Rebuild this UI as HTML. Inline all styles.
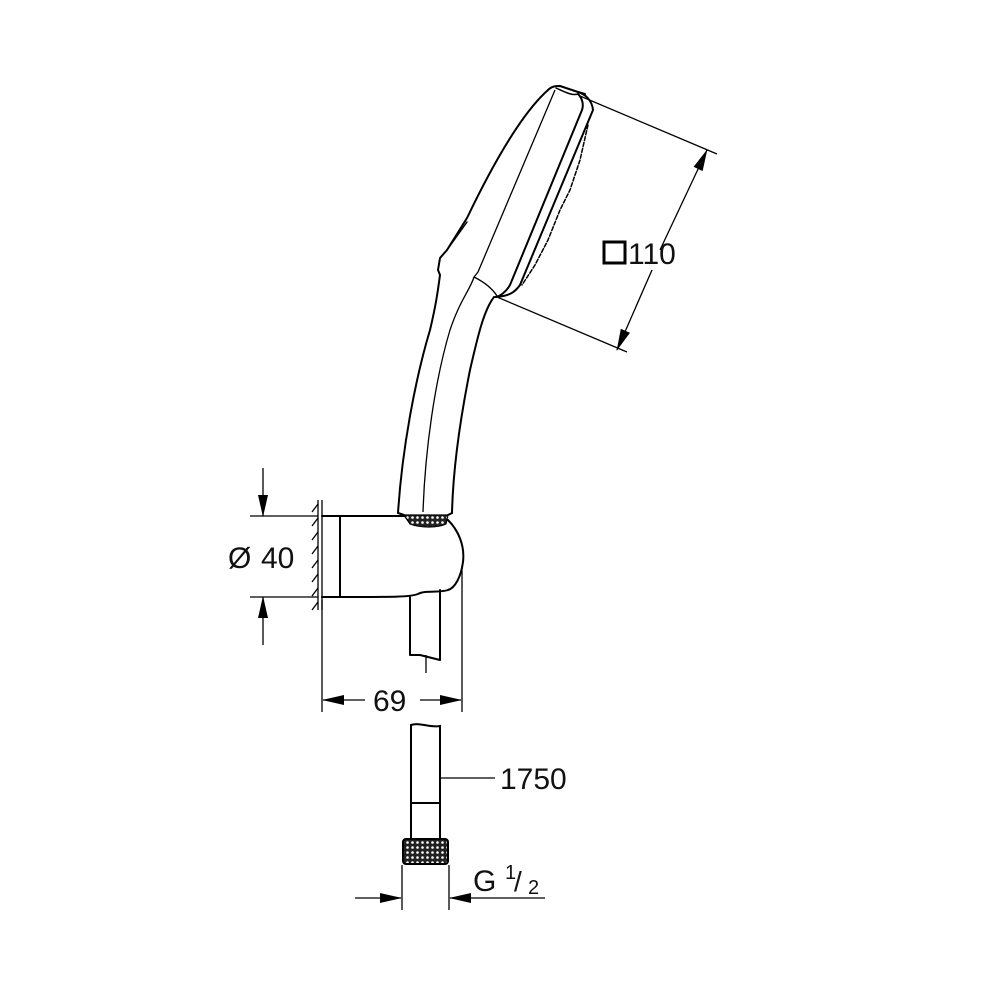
<!DOCTYPE html>
<html><head><meta charset="utf-8"><style>
html,body{margin:0;padding:0;background:#fff}
svg{display:block}
text{font-family:"Liberation Sans",sans-serif;fill:#111}
</style></head><body>
<svg width="1000" height="1000" viewBox="0 0 1000 1000" xmlns="http://www.w3.org/2000/svg">
<defs>
<pattern id="kn" width="5" height="5" patternUnits="userSpaceOnUse">
<rect width="5" height="5" fill="#222"/><circle cx="2.5" cy="2.5" r="1.3" fill="#fff"/>
</pattern>
<marker id="ar" markerWidth="22" markerHeight="10" refX="21" refY="5" orient="auto" markerUnits="userSpaceOnUse">
<path d="M0,0 L22,5 L0,10 Z" fill="#000"/></marker>
</defs>
<g fill="none" stroke="#000" stroke-width="2" stroke-linejoin="round" stroke-linecap="round">
<path d="M398,513 C402,450 415,380 430,330 C436,305 438,290 440,275 L438,270 L440,258 L447,250 L467,218 C490,170 520,115 548,90 C552,86 556,86 560,86 L578,92 L585,94"/>
<path d="M447,250 L467,222" stroke-width="1.5"/>
<path d="M452,513 C453,470 460,420 470,370 C478,335 484,310 494,297"/>
<path d="M578,92 C585,94 592,100 593,110 L520,285 C515,292 510,296 495,297"/>
<path d="M578,94 C582,98 584,104 582,110 L510,285 C506,292 500,296 496,297"/>
<path d="M556,88 C565,92 572,96 578,94" stroke-width="1.5"/>
<path d="M588,125 L580,160 L570,190 L560,210 L548,240 L535,265 L522,285" stroke-width="1.5" stroke-dasharray="4 2"/>
<path d="M322,516 L405,516 L408,520 L448,520 C458,530 465,545 463,562 C461,577 455,588 448,590 C440,593 425,590 418,594 C410,597 400,597 330,597 L322,597"/>
<path d="M340,516 L340,597"/>
<path d="M410,597 L410,655 L420,655 L440,660 L440,590"/>
<path d="M404,515 L448,515 L446,524 C438,528 420,528 410,524 Z" fill="url(#kn)" stroke-width="1.2"/>
<path d="M404,515 L398,513 M448,515 L452,513" />
</g>
<g fill="none" stroke="#000" stroke-width="1.3">
<path d="M423,512 C425,450 435,380 450,330 C460,300 470,290 474,277 L478,272 L555,90"/>
<path d="M474,277 C484,282 492,288 497,296"/>
<path d="M318,500 L318,610 M322,500 L322,610"/>
<path d="M312,512 L318,504 M312,526 L318,518 M312,540 L318,532 M312,554 L318,546 M312,568 L318,560 M312,582 L318,574 M312,596 L318,588 M312,610 L318,602"/>
<path d="M580,96 L717,154 M497,297 L627,352"/>
<path d="M660,250 L707,150" marker-end="url(#ar)"/>
<path d="M652,270 L617,350" marker-end="url(#ar)"/>
<path d="M250,516 L318,516 M250,597 L318,597"/>
<path d="M263,468 L263,516" marker-end="url(#ar)"/>
<path d="M263,645 L263,597" marker-end="url(#ar)"/>
<path d="M322,600 L322,712 M462,565 L462,712 M426,655 L426,673"/>
<path d="M365,700 L323,700" marker-end="url(#ar)"/>
<path d="M420,700 L461,700" marker-end="url(#ar)"/>
<path d="M441,778 L495,778"/>
<path d="M402,865 L402,910 M449,865 L449,910"/>
<path d="M355,898 L401,898" marker-end="url(#ar)"/>
<path d="M545,898 L450,898" marker-end="url(#ar)"/>
</g>
<g fill="none" stroke="#000" stroke-width="2">
<path d="M411,803 L411,725 C420,722 430,728 440,726 L440,803"/>
<rect x="411" y="803" width="29" height="36"/>
<rect x="403" y="839" width="45" height="25" rx="3" fill="url(#kn)"/>
</g>
<rect x="604" y="242" width="21" height="21" fill="none" stroke="#000" stroke-width="3"/>
<text x="628" y="264" font-size="30">110</text>
<text x="228" y="568" font-size="30">Ø</text>
<text x="261" y="568" font-size="30">40</text>
<text x="373" y="711" font-size="30">69</text>
<text x="500" y="789" font-size="30">1750</text>
<text x="473" y="891" font-size="30">G</text>
<text x="505" y="879" font-size="20">1</text>
<text x="514" y="891" font-size="28">/</text>
<text x="528" y="894" font-size="20">2</text>
</svg>
</body></html>
